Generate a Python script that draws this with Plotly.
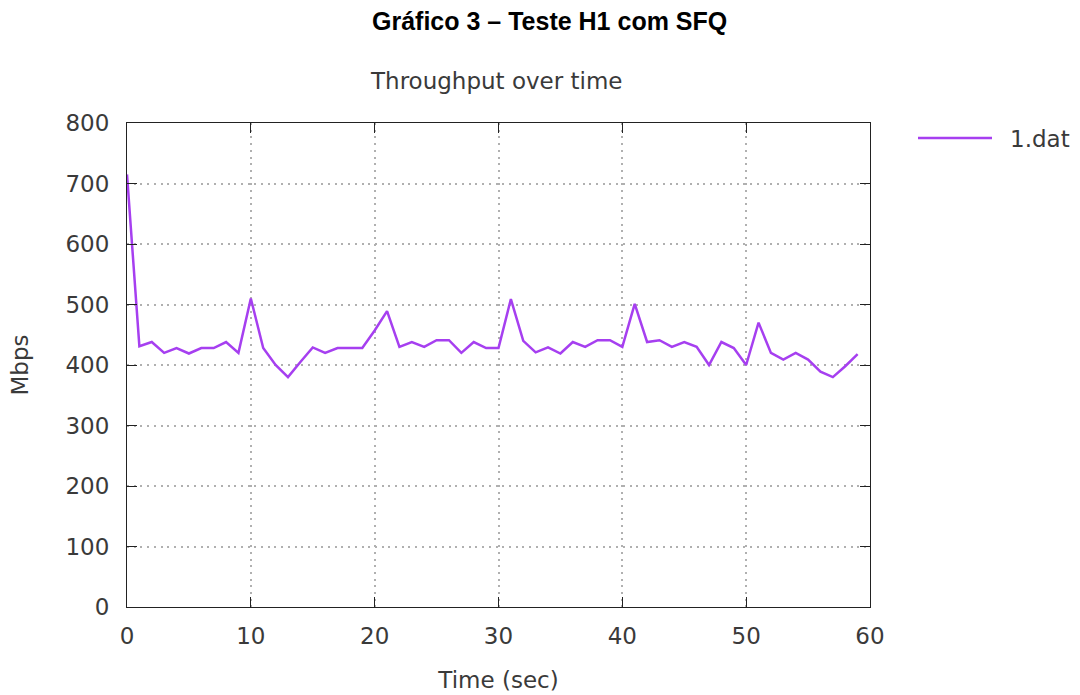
import plotly.graph_objects as go

# Throughput samples, one per second
time_sec = list(range(60))
mbps = [
    715, 431, 438, 420, 428, 419, 428, 428, 438, 420,
    510, 428, 400, 380, 405, 429, 420, 428, 428, 428,
    457, 489, 430, 438, 430, 441, 441, 420, 438, 428,
    428, 509, 440, 421, 429, 419, 438, 430, 441, 441,
    430, 501, 438, 441, 430, 438, 430, 400, 438, 428,
    400, 470, 420, 409, 420, 409, 389, 380, 398, 418,
]
series_name = "1.dat"

x_ticks = [0, 10, 20, 30, 40, 50, 60]
y_ticks = [0, 100, 200, 300, 400, 500, 600, 700, 800]

LINE_COLOR = "#a63ff0"
TEXT_COLOR = "#3a3a3a"
FONT = "DejaVu Sans"
FS = 23

# Plot area in pixels
W, H = 1080, 695
L, R, T, B = 127, 870, 123, 607
pw, ph = R - L, B - T


def px(x):
    return (x - L) / pw


def py(y):
    return (B - y) / ph


fig = go.Figure()
fig.add_trace(go.Scatter(
    x=time_sec, y=mbps, mode="lines", name=series_name,
    line=dict(color=LINE_COLOR, width=2.5), showlegend=False,
))

axis_common = dict(
    showline=True, linecolor="#222222", linewidth=1.2, mirror="ticks",
    ticks="inside", ticklen=10, tickcolor="#222222", tickwidth=1.2,
    showgrid=True, gridcolor="#b0b0b0", griddash="2px,4.7px", gridwidth=1.5,
    zeroline=False, automargin=False,
    tickfont=dict(family=FONT, size=FS, color=TEXT_COLOR),
)

fig.update_xaxes(
    range=[0, 60], tickvals=x_ticks, ticktext=[str(v) for v in x_ticks],
    ticklabelstandoff=8,
    title=dict(text="Time (sec)", font=dict(family=FONT, size=FS, color=TEXT_COLOR), standoff=24),
    **axis_common,
)
fig.update_yaxes(
    range=[0, 800], tickvals=y_ticks, ticktext=[str(v) for v in y_ticks],
    ticklabelstandoff=12,
    title=dict(text="Mbps", font=dict(family=FONT, size=FS, color=TEXT_COLOR), standoff=30),
    **axis_common,
)

annotations = [
    dict(text="<b>Gráfico 3 – Teste H1 com SFQ</b>", x=px(549), y=py(21),
         xref="paper", yref="paper", showarrow=False, xanchor="center", yanchor="middle",
         font=dict(family="Liberation Sans", size=25, color="black")),
    dict(text="Throughput over time", x=px(496), y=py(81),
         xref="paper", yref="paper", showarrow=False, xanchor="center", yanchor="middle",
         font=dict(family=FONT, size=FS, color=TEXT_COLOR)),
    dict(text=series_name, x=px(1008), y=py(139),
         xref="paper", yref="paper", showarrow=False, xanchor="left", yanchor="middle",
         font=dict(family=FONT, size=FS, color=TEXT_COLOR)),
]

# Legend key line
shapes = [
    dict(type="line", xref="paper", yref="paper",
         x0=px(918), x1=px(992), y0=py(138), y1=py(138),
         line=dict(color=LINE_COLOR, width=2.5)),
]

fig.update_layout(
    width=W, height=H,
    margin=dict(l=L, r=W - R, t=T, b=H - B),
    paper_bgcolor="white", plot_bgcolor="white",
    annotations=annotations, shapes=shapes,
    showlegend=False,
)

fig.write_html("out.html")
